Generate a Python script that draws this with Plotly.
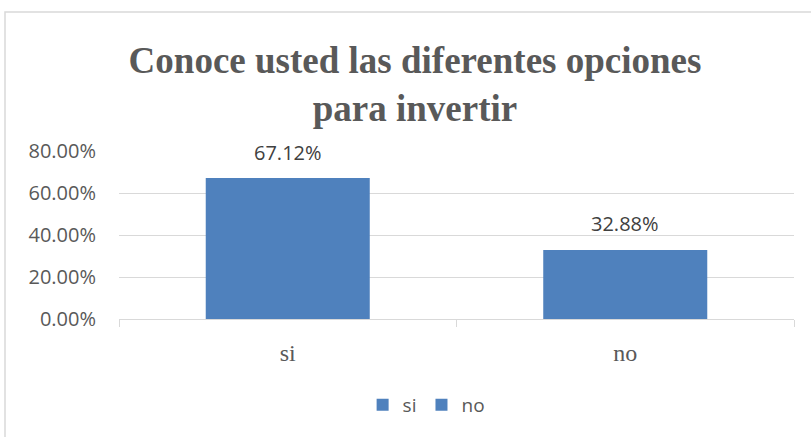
import plotly.graph_objects as go

# data
categories = ["si", "no"]
values = [0.6712, 0.3288]
value_labels = ["67.12%", "32.88%"]
y_ticks = [0.0, 0.2, 0.4, 0.6, 0.8]
y_tick_labels = ["0.00%", "20.00%", "40.00%", "60.00%", "80.00%"]

BAR_COLOR = "#4F81BD"
TEXT_GRAY = "#595959"
GRID = "#D9D9D9"

W, H = 811, 437
L, R, T, B = 119, 17, 151, 118

fig = go.Figure()
for cat, val in zip(categories, values):
    fig.add_trace(go.Bar(
        x=[cat], y=[val], name=cat,
        marker_color=BAR_COLOR, marker_line_width=0,
        width=0.486,
    ))

for cat, val, lab in zip(categories, values, value_labels):
    fig.add_annotation(
        x=cat, y=val, text=lab, showarrow=False,
        yshift=26, font=dict(family="Open Sans", size=20, color="#404040"),
    )

# chart area border (Excel style)
pw, ph = W - L - R, H - T - B
fig.add_shape(
    type="rect", xref="paper", yref="paper",
    x0=(5 - L) / pw, x1=(W + 20 - L) / pw,
    y0=-(H + 20 - T - ph) / ph, y1=(H - 12 - B) / ph,
    line=dict(color=GRID, width=1.5), layer="below",
)

fig.update_layout(
    width=W, height=H,
    margin=dict(l=L, r=R, t=T, b=B, autoexpand=False),
    paper_bgcolor="white", plot_bgcolor="white",
    barmode="overlay",
    title=dict(
        text="<b>Conoce usted las diferentes opciones<br>para invertir</b>",
        x=415 / W, xanchor="center", y=1 - 73 / H, yanchor="top",
        font=dict(family="Liberation Serif", size=37, color=TEXT_GRAY),
    ),
    xaxis=dict(
        showgrid=False, showline=True, linecolor=GRID, linewidth=1,
        ticks="outside", ticklen=7, tickcolor=GRID, tickson="boundaries",
        tickfont=dict(family="Liberation Serif", size=24, color=TEXT_GRAY),
        ticklabelstandoff=12, automargin=False,
    ),
    yaxis=dict(
        range=[0, 0.8], tickvals=y_ticks, ticktext=y_tick_labels,
        showgrid=True, gridcolor=GRID, gridwidth=1, zeroline=False,
        tickfont=dict(family="Open Sans", size=20, color=TEXT_GRAY),
        ticks="", ticklabelstandoff=22, automargin=False,
    ),
    legend=dict(
        orientation="h", x=369 / W, xanchor="center",
        y=-(405 - T - ph) / ph, yanchor="middle",
        font=dict(family="Open Sans", size=19, color=TEXT_GRAY),
        itemwidth=30,
    ),
    showlegend=True,
)

fig.write_html("out.html", config={"displayModeBar": False},
               post_script="document.body.style.margin='0px';")
